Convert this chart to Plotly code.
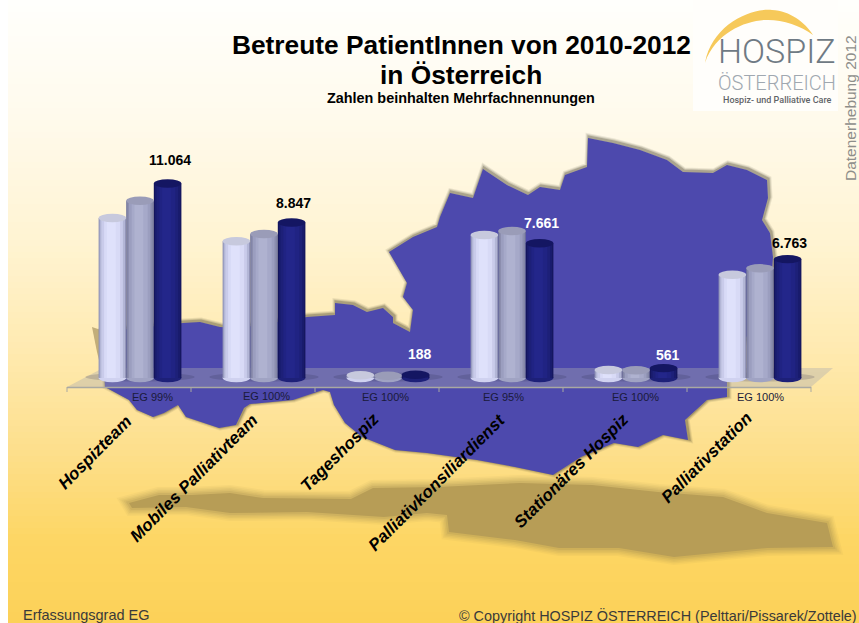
import plotly.graph_objects as go

W, H = 859, 623
categories = ["Hospizteam", "Mobiles Palliativteam", "Tageshospiz", "Palliativkonsiliardienst", "Stationäres Hospiz", "Palliativstation"]
coverage = ["EG 99%", "EG 100%", "EG 100%", "EG 95%", "EG 100%", "EG 100%"]
years = ["2010", "2011", "2012"]
v2010 = [9100, 7775, 160, 8130, 455, 5875]
v2011 = [10085, 8190, 130, 8360, 440, 6240]
v2012 = [11064, 8847, 188, 7661, 561, 6763]
value_labels = ["11.064", "8.847", "188", "7.661", "561", "6.763"]
label_colors = ["#000000", "#000000", "#ffffff", "#ffffff", "#ffffff", "#000000"]

BASE_PX = 378
PX_PER_UNIT = 0.01758
LEFT_PX, RIGHT_PX = 78, 822
SLOT_PX = (RIGHT_PX - LEFT_PX) / 6
BAR_PX = 27.6
BAR_U = BAR_PX / SLOT_PX

def px(x): return x / W
def py(y): return 1 - y / H
def path(points, close=True):
    s = "M" + " L".join(f"{px(x):.5f},{py(y):.5f}" for x, y in points)
    return s + (" Z" if close else "")

shapes = []
stops = [(0, (255, 255, 252)), (120, (255, 250, 236)), (250, (255, 243, 208)), (350, (255, 234, 176)),
         (450, (253, 223, 140)), (540, (253, 214, 100)), (623, (252, 209, 88))]
def bg(y):
    for (a, ca), (b, cb) in zip(stops, stops[1:]):
        if a <= y <= b:
            t = (y - a) / (b - a)
            return "rgb(" + ",".join(str(round(p + (q - p) * t)) for p, q in zip(ca, cb)) + ")"
    return "rgb(252,209,88)"
for y in range(0, H, 6):
    shapes.append(dict(type="rect", xref="paper", yref="paper", x0=px(8), x1=1, y0=py(y), y1=py(y + 7),
                       fillcolor=bg(y + 3), line_width=0, layer="below"))

shadow = [(129,503),(159,495),(192,495),(230,493),(263,498),(351,499),(373,488),(438,487),(520,483),(592,485),
          (658,492),(723,497),(767,513),(827,523),(833,547),(767,548),(674,557),(619,548),(559,548),(515,540),
          (449,532),(447,515),(427,513),(384,517),(307,512),(230,513),(186,507),(132,508)]
for w, op in [(16, .07), (13, .09), (10, .11), (7, .14), (4, .2)]:
    shapes.append(dict(type="path", xref="paper", yref="paper", path=path(shadow), fillcolor="rgba(0,0,0,0)",
                       line=dict(color="#a08c50", width=w), opacity=op, layer="below"))
shapes.append(dict(type="path", xref="paper", yref="paper", path=path(shadow), fillcolor="#b79d56",
                   line_width=0, layer="below"))

shapes.append(dict(type="path", xref="paper", yref="paper", path=path([(92,327),(101,330),(102,372),(97,352)]),
                   fillcolor="rgba(120,100,50,0.45)", line_width=0, layer="below"))
austria = [(101,332),(120,330),(183,323),(200,322),(220,327),(240,328),(307,317),(335,315),(335,303),(353,305),
           (367,312),(383,308),(393,317),(393,323),(410,332),(413,310),(403,297),(407,283),(389,252),(413,237),
           (437,227),(440,217),(450,193),(473,198),(483,169),(507,185),(528,195),(540,187),(560,190),(565,175),
           (587,167),(588,138),(613,143),(640,150),(667,160),(683,172),(713,173),(727,165),(747,170),(767,180),
           (768,198),(762,220),(770,233),(773,257),(770,300),(750,330),(727,375),(727,397),(707,400),(685,420),
           (688,440),(663,435),(638,447),(614,443),(581,457),(553,475),(515,467),(477,460),(427,453),(395,450),
           (362,437),(345,423),(334,405),(330,392),(323,390),(293,400),(250,404),(244,408),(236,425),(219,428),
           (186,417),(178,405),(164,413),(153,417),(137,410),(129,400),(105,387),(104,367)]
for w, op, d in [(7, .10, 1), (5, .16, 1), (3, .28, 1)]:
    shapes.append(dict(type="path", xref="paper", yref="paper",
                       path=path([(x + d, y - d) for x, y in austria]), fillcolor="rgba(0,0,0,0)",
                       line=dict(color="#4a4530", width=w), opacity=op, layer="below"))
shapes.append(dict(type="path", xref="paper", yref="paper", path=path(austria), fillcolor="#4d49ad",
                   line_width=0, layer="below"))

shapes.append(dict(type="path", xref="paper", yref="paper", path=path([(67,387),(103,368),(833,368),(811,387)]),
                   fillcolor="rgba(170,170,175,0.38)", line_width=0, layer="below"))
shapes.append(dict(type="line", xref="paper", yref="paper", x0=px(67), x1=px(811), y0=py(387.5), y1=py(387.5),
                   line=dict(color="#a9a9a2", width=1.5), layer="below"))
for i in range(7):
    tx = 67 + i * 124
    shapes.append(dict(type="line", xref="paper", yref="paper", x0=px(tx), x1=px(tx), y0=py(387), y1=py(392),
                       line=dict(color="#a9a9a2", width=1), layer="below"))

for i in range(6):
    shapes.append(dict(type="circle", xref="x", yref="y", x0=i - .44, x1=i + .44,
                  y0=-3.5 / PX_PER_UNIT, y1=5.5 / PX_PER_UNIT, fillcolor="rgba(40,40,70,0.18)", line_width=0, layer="below"))

series = [v2010, v2011, v2012]
offsets = [-BAR_U, 0, BAR_U]
layers = [
    [(0.00, 0.00, "#8f92b6"), (0.04, 0.04, "#b3b6d6"), (0.10, 0.12, "#c9cbea"), (0.20, 0.22, "#d8daf6"), (0.30, 0.38, "#dfe1fb")],
    [(0.00, 0.00, "#70739a"), (0.04, 0.04, "#8b8eae"), (0.10, 0.12, "#9b9ebf"), (0.20, 0.22, "#a6a9c9"), (0.30, 0.38, "#afb2d0")],
    [(0.00, 0.00, "#14165c"), (0.04, 0.04, "#191b6c"), (0.10, 0.12, "#1d2078"), (0.20, 0.22, "#202383"), (0.30, 0.38, "#23268a")],
]
top_colors = ["#c7c9dd", "#9a9cb8", "#141662"]
base_colors = ["#d0d2f0", "#a0a3c3", "#1d2078"]
EH = 4.2 / PX_PER_UNIT

traces = []
for s, vals in enumerate(series):
    for left, right, color in layers[s]:
        w = BAR_U * (1 - left - right)
        traces.append(go.Bar(
            x=[i + offsets[s] for i in range(6)], y=vals, name=years[s], width=w,
            offset=-BAR_U / 2 + BAR_U * left, marker=dict(color=color, line_width=0),
            showlegend=False, hoverinfo="skip"))
    for i, v in enumerate(vals):
        x0, x1 = i + offsets[s] - BAR_U / 2, i + offsets[s] + BAR_U / 2
        shapes.append(dict(type="circle", xref="x", yref="y", x0=x0, x1=x1, y0=-EH, y1=EH,
                           fillcolor=base_colors[s], line_width=0, layer="below"))
        shapes.append(dict(type="circle", xref="x", yref="y", x0=x0, x1=x1, y0=v - EH, y1=v + EH,
                           fillcolor=top_colors[s], line_width=0, layer="above"))

shapes.append(dict(type="rect", xref="paper", yref="paper", x0=px(693), x1=px(838), y0=py(0), y1=py(111),
                   fillcolor="#fffefb", line_width=0, layer="below"))
def pt(x, y): return f"{px(x):.5f},{py(y):.5f}"
crescent = (f"M{pt(705,63)} C{pt(712,25)} {pt(750,8)} {pt(772,10)} C{pt(790,11)} {pt(805,22)} {pt(813,35)} "
            f"C{pt(800,25)} {pt(780,19)} {pt(765,20)} C{pt(745,21)} {pt(715,33)} {pt(705,63)} Z")
shapes.append(dict(type="path", xref="paper", yref="paper", path=crescent, fillcolor="#f6c95a", line_width=0, layer="below"))

SANS = "Liberation Sans, Arial, sans-serif"
ann = []
def text(x, y, t, size, color="#000", bold=False, anchor="center", font=SANS, angle=0, weight=None):
    f = dict(family=font, size=size, color=color)
    if weight:
        f["weight"] = weight
    ann.append(dict(xref="paper", yref="paper", x=px(x), y=py(y), text=f"<b>{t}</b>" if bold else t, showarrow=False,
                    xanchor=anchor, yanchor="middle", textangle=angle, font=f))

text(461, 45, "Betreute PatientInnen von 2010-2012", 26.3, bold=True)
text(461, 75, "in Österreich", 26.3, bold=True)
text(461, 98, "Zahlen beinhalten Mehrfachnennungen", 14.4, bold=True)
text(777, 51, "HOSPIZ", 34, "#6f7a84", font="Roboto", weight=300)
text(777, 83, "ÖSTERREICH", 20, "#a0a8b0", font="Roboto", weight=300)
text(777, 100, "Hospiz- und Palliative Care", 9, "#5f6468", font="Roboto", weight=500)
text(850, 108, "Datenerhebung 2012", 15.5, "#8e8e8a", angle=-90)
text(21, 615, "Erfassungsgrad EG", 14.5, "#3a3a3a", anchor="left")
text(859, 615, "© Copyright HOSPIZ ÖSTERREICH (Pelttari/Pissarek/Zottele)", 14.4, "#3a3a3a", anchor="right")

eg_pos = [(152, 397), (266, 396), (385, 397), (504, 397), (635, 397), (760, 397)]
for (x, y), t in zip(eg_pos, coverage):
    text(x, y, t, 11, "#1a1a3a")

cat_ends = [(138, 409), (264, 408), (386, 407), (512, 407), (636, 407), (759, 406)]
for (x, y), c in zip(cat_ends, categories):
    ann.append(dict(xref="paper", yref="paper", x=px(x), y=py(y), text=f"<b><i>{c}</i></b>", showarrow=False,
                    xanchor="right", yanchor="top", textangle=-45,
                    font=dict(family=SANS, size=17, color="#000")))

label_shift = [23, 19, 21, 20, 13, 16]
label_dx = [2, 2, 4, 2, 4, 2]
for i, t in enumerate(value_labels):
    ann.append(dict(xref="x", yref="y", x=i + BAR_U, y=v2012[i], text=f"<b>{t}</b>", showarrow=False,
                    yshift=label_shift[i], xshift=label_dx[i], font=dict(family=SANS, size=14, color=label_colors[i])))

fig = go.Figure(traces)
fig.update_layout(
    width=W, height=H, margin=dict(l=0, r=0, t=0, b=0), paper_bgcolor="white", plot_bgcolor="rgba(0,0,0,0)",
    barmode="overlay", shapes=shapes, annotations=ann, showlegend=False,
    xaxis=dict(domain=[px(LEFT_PX), px(RIGHT_PX)], range=[-0.5, 5.5], visible=False, fixedrange=True),
    yaxis=dict(domain=[py(BASE_PX + 100), 1], range=[-100 / PX_PER_UNIT, BASE_PX / PX_PER_UNIT], visible=False, fixedrange=True),
)
fig.write_html("out.html", config=dict(displayModeBar=False),
               post_script="document.body.style.margin='0';document.body.style.overflow='hidden';")
